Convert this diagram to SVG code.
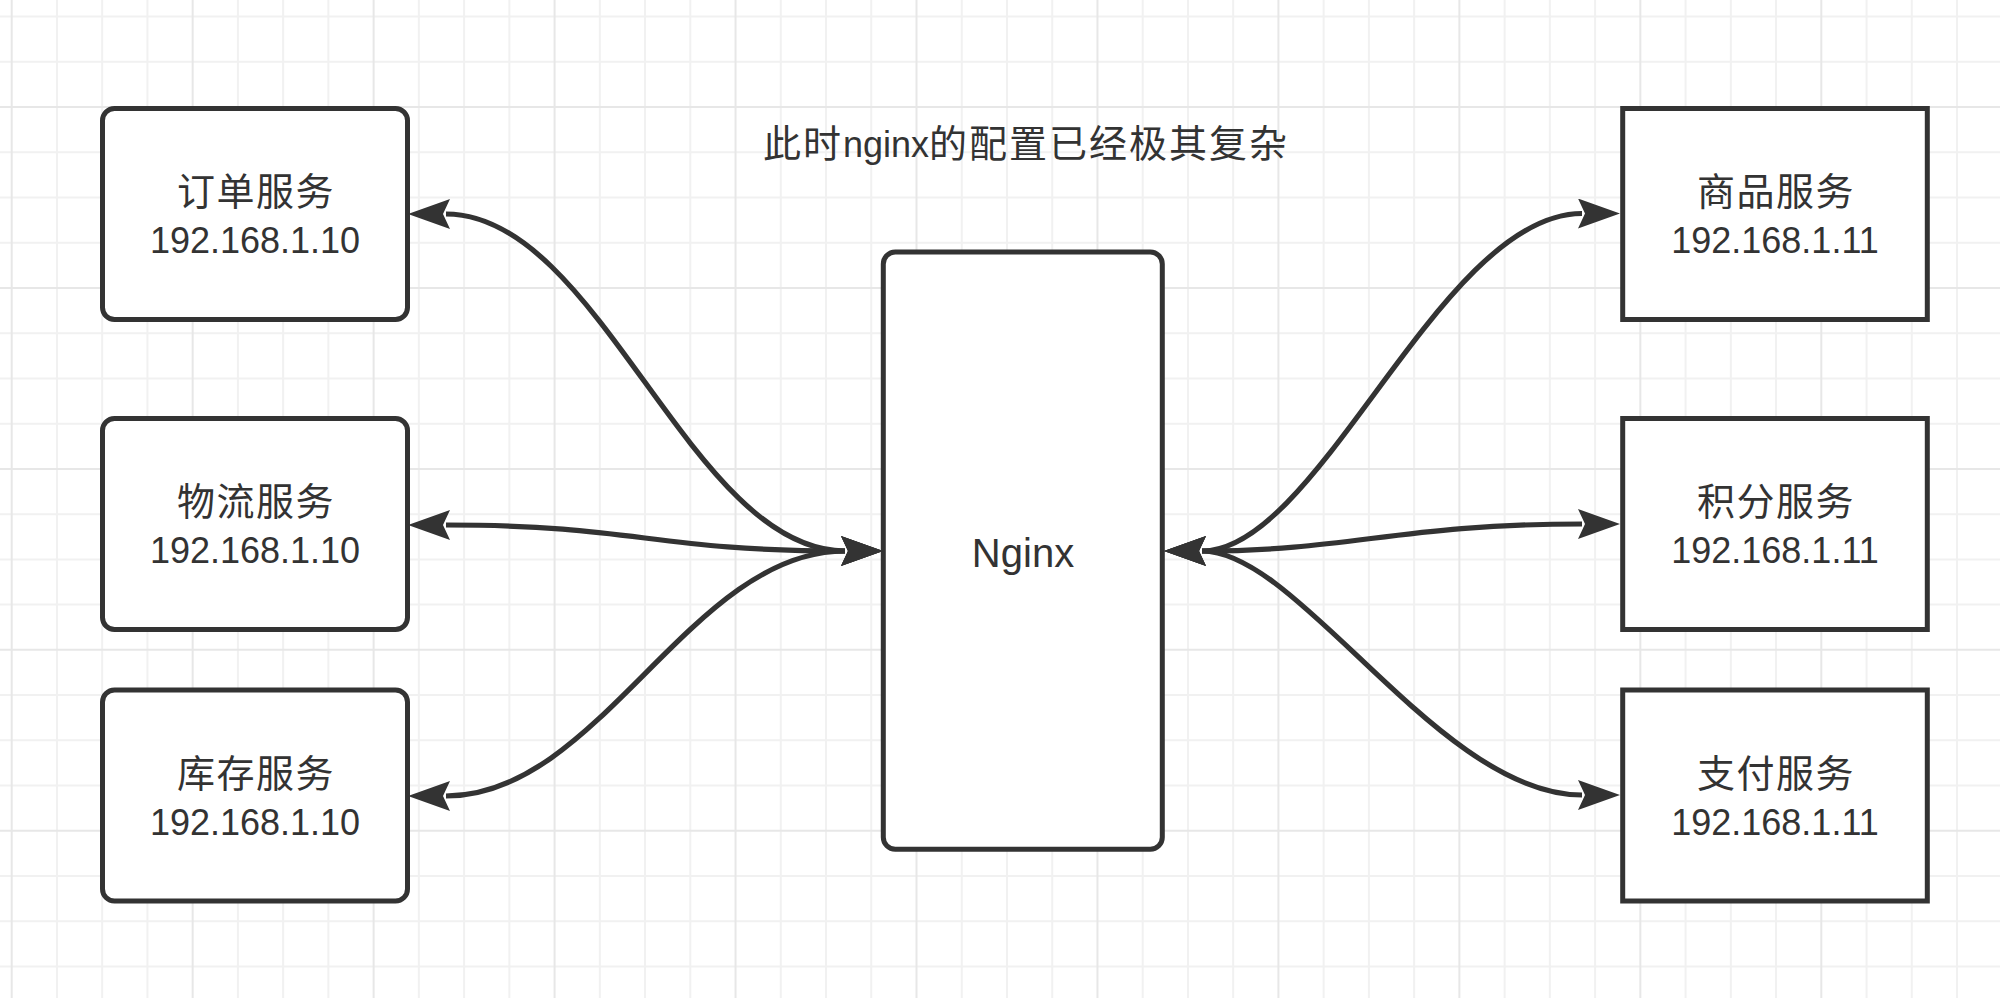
<svg xmlns="http://www.w3.org/2000/svg" width="2000" height="998" viewBox="0 0 2000 998">
<style>
.minor{stroke:#f1f1f1;stroke-width:2;fill:none}
.major{stroke:#e7e7e7;stroke-width:2;fill:none}
.box{fill:#ffffff;stroke:#333333;stroke-width:5}
.edge{fill:none;stroke:#333333;stroke-width:5.2;marker-start:url(#arr);marker-end:url(#arr)}
text{fill:#333333}
.cj{font-family:"Noto Sans CJK SC","Liberation Sans",sans-serif;font-size:38px;letter-spacing:1.5px}
.lt{font-family:"Liberation Sans","Noto Sans CJK SC",sans-serif;font-size:36px}
.ng{font-family:"Liberation Sans","Noto Sans CJK SC",sans-serif;font-size:40px}
.t{text-anchor:middle}
.tc{font-family:"Noto Sans CJK SC","Liberation Sans",sans-serif;font-size:38px;letter-spacing:2px}
</style>
<defs>
<marker id="arr" markerUnits="userSpaceOnUse" viewBox="0 0 42 30" refX="4" refY="15" markerWidth="42" markerHeight="30" orient="auto-start-reverse">
<path d="M0,0 L42,15 L0,30 L7,15 Z" fill="#333333"/>
</marker>
</defs>
<rect x="0" y="0" width="2000" height="998" fill="#ffffff"/>
<g id="grid">
<path class="minor" d="M56.94,0V998M102.18,0V998M147.42,0V998M237.9,0V998M283.14,0V998M328.38,0V998M418.86,0V998M464.1,0V998M509.34,0V998M599.82,0V998M645.06,0V998M690.3,0V998M780.78,0V998M826.02,0V998M871.26,0V998M961.74,0V998M1006.98,0V998M1052.22,0V998M1142.7,0V998M1187.94,0V998M1233.18,0V998M1323.66,0V998M1368.9,0V998M1414.14,0V998M1504.62,0V998M1549.86,0V998M1595.1,0V998M1685.58,0V998M1730.82,0V998M1776.06,0V998M1866.54,0V998M1911.78,0V998M1957.02,0V998M0,16.5H2000M0,61.74H2000M0,152.22H2000M0,197.46H2000M0,242.7H2000M0,333.18H2000M0,378.42H2000M0,423.66H2000M0,514.14H2000M0,559.38H2000M0,604.62H2000M0,695.1H2000M0,740.34H2000M0,785.58H2000M0,876.06H2000M0,921.3H2000M0,966.54H2000"/>
<path class="major" d="M11.7,0V998M192.66,0V998M373.62,0V998M554.58,0V998M735.54,0V998M916.5,0V998M1097.46,0V998M1278.42,0V998M1459.38,0V998M1640.34,0V998M1821.3,0V998M0,106.98H2000M0,287.94H2000M0,468.9H2000M0,649.86H2000M0,830.82H2000"/>
</g>
<text class="tc" x="763" y="157">此时<tspan class="lt" style="letter-spacing:0">nginx</tspan>的配置已经极其复杂</text>
<g id="order">
<rect class="box" x="102.5" y="108.5" width="305" height="211" rx="12" ry="12"/>
<text class="cj t" x="256" y="205">订单服务</text>
<text class="lt t" x="255" y="253">192.168.1.10</text>
</g>
<g id="logistics">
<rect class="box" x="102.5" y="418.5" width="305" height="211" rx="12" ry="12"/>
<text class="cj t" x="256" y="515">物流服务</text>
<text class="lt t" x="255" y="563">192.168.1.10</text>
</g>
<g id="stock">
<rect class="box" x="102.5" y="690" width="305" height="211" rx="12" ry="12"/>
<text class="cj t" x="256" y="786.5">库存服务</text>
<text class="lt t" x="255" y="834.5">192.168.1.10</text>
</g>
<g id="nginx">
<rect class="box" x="883.3" y="252" width="279" height="597.3" rx="12" ry="12"/>
<text class="ng t" x="1023" y="567">Nginx</text>
</g>
<g id="goods">
<rect class="box" x="1622.7" y="108.5" width="304.6" height="211"/>
<text class="cj t" x="1776" y="205">商品服务</text>
<text class="lt t" x="1775" y="253">192.168.1.11</text>
</g>
<g id="points">
<rect class="box" x="1622.7" y="418.5" width="304.6" height="211"/>
<text class="cj t" x="1776" y="515">积分服务</text>
<text class="lt t" x="1775" y="563">192.168.1.11</text>
</g>
<g id="pay">
<rect class="box" x="1622.7" y="690" width="304.6" height="211"/>
<text class="cj t" x="1776" y="786.5">支付服务</text>
<text class="lt t" x="1775" y="834.5">192.168.1.11</text>
</g>
<g id="connectors">
<path class="edge" d="M845,551 C690,551 600,214 446,214"/>
<path class="edge" d="M845,551 C650,551 640,525 446,525"/>
<path class="edge" d="M845,551 C690,551 600,796 446,796"/>
<path class="edge" d="M1202,551 C1320,551 1440,213.5 1582,213.5"/>
<path class="edge" d="M1202,551 C1350,551 1400,524 1582,524"/>
<path class="edge" d="M1202,551 C1300,551 1440,795 1582,795"/>
</g>
</svg>
